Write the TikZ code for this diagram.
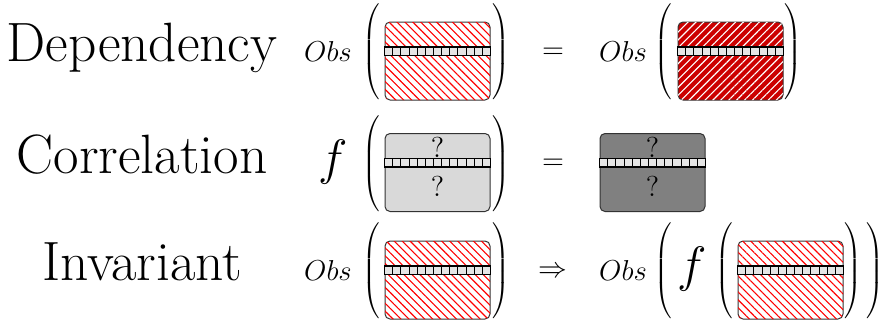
\documentclass[tikz,border=0pt]{standalone}
\usepackage{tikz}
\usetikzlibrary{calc,patterns.meta}

% big round brackets around a card
\newcommand{\lpar}{$\left(\vcenter{\hbox{\rule{0pt}{48pt}}}\right.$}
\newcommand{\rpar}{$\left.\vcenter{\hbox{\rule{0pt}{48pt}}}\right)$}

% the cell strip across a card
\newcommand{\cardstrip}[1]{%
  \draw[strip] ([yshift=-12.75pt]#1.north west) rectangle ([yshift=-17pt]#1.north east);
  \foreach \i in {1,...,12}
    \draw[cell] ($(#1.north west)!\i/13!(#1.north east)+(0,-12.75pt)$) -- ++(0,-4.25pt);
  \draw[stripedge] ([yshift=-12.75pt]#1.north west) rectangle ([yshift=-17pt]#1.north east);
}

\begin{document}
\begin{tikzpicture}[
  x=0.5pt, y=-0.5pt,
  rowlabel/.style={font=\fontsize{27.7}{33}\selectfont, inner sep=0pt, anchor=base},
  obs/.style={font=\Large, inner sep=0pt},
  fn/.style={font=\fontsize{27.7}{33}\selectfont, inner sep=0pt},
  rel/.style={font=\fontsize{14}{16}\selectfont, inner sep=0pt},
  paren/.style={inner sep=0pt},
  qmark/.style={font=\Large, inner sep=0pt},
  cardbox/.style={draw=black!80, line width=0.5pt, rounded corners=2.5pt,
                  minimum width=52.5pt, minimum height=39pt, inner sep=0pt},
  redhatch/.style={cardbox, fill=white,
                   postaction={pattern={Lines[angle=-45,distance=2.8pt,line width=0.55pt]}, pattern color=red}},
  darkhatch/.style={cardbox, fill=red!80!black,
                    postaction={pattern={Lines[angle=45,distance=2.8pt,line width=0.55pt]}, pattern color=white}},
  unknown/.style={cardbox, fill=black!15},
  known/.style={cardbox, fill=black!50},
  strip/.style={fill=black!10},
  cell/.style={draw=black, line width=0.4pt},
  stripedge/.style={draw=black, line width=0.9pt}
]
  \useasboundingbox (0,0) rectangle (885,322);

  % row labels
  \node[rowlabel] (dep) at (142,61)  {Dependency};
  \node[rowlabel] (cor) at (142,173) {Correlation};
  \node[rowlabel] (inv) at (142,280) {Invariant};

  % Dependency
  \node[obs]   (obs1) at (328,51)    {$Obs$};
  \node[paren] (lp1)  at (372,52)    {\lpar};
  \node[redhatch] (c1) at (437.5,61) {};
  \cardstrip{c1}
  \node[paren] (rp1)  at (500,52)    {\rpar};
  \node[rel]   (eq1)  at (553,53.5)  {$=$};
  \node[obs]   (obs2) at (623,51)    {$Obs$};
  \node[paren] (lp2)  at (664,52)    {\lpar};
  \node[darkhatch] (c2) at (730.5,61) {};
  \cardstrip{c2}
  \node[paren] (rp2)  at (792,52)    {\rpar};

  % Correlation
  \node[fn]    (f1)   at (333,162)   {$f$};
  \node[paren] (lp3)  at (372,163.5) {\lpar};
  \node[unknown] (c3) at (437.5,172.5) {};
  \cardstrip{c3}
  \node[qmark] (q1)   at (437.5,147) {?};
  \node[qmark] (q2)   at (437.5,186) {?};
  \node[paren] (rp3)  at (500,163.5) {\rpar};
  \node[rel]   (eq2)  at (553,164)   {$=$};
  \node[known] (c4)   at (652.5,172.5) {};
  \cardstrip{c4}
  \node[qmark] (q3)   at (652.5,147) {?};
  \node[qmark] (q4)   at (652.5,186) {?};

  % Invariant
  \node[obs]   (obs3) at (328,270)   {$Obs$};
  \node[paren] (lp5)  at (372,271)   {\lpar};
  \node[redhatch] (c5) at (437.5,280) {};
  \cardstrip{c5}
  \node[paren] (rp5)  at (500,271)   {\rpar};
  \node[rel]   (imp)  at (553,272)   {$\Rightarrow$};
  \node[obs]   (obs4) at (623,270)   {$Obs$};
  \node[paren] (lp6)  at (664,271)   {\lpar};
  \node[fn]    (f2)   at (692,269)   {$f$};
  \node[paren] (lp7)  at (725,271)   {\lpar};
  \node[redhatch] (c6) at (790.5,280) {};
  \cardstrip{c6}
  \node[paren] (rp7)  at (852,271)   {\rpar};
  \node[paren] (rp6)  at (874,271)   {\rpar};
\end{tikzpicture}
\end{document}
